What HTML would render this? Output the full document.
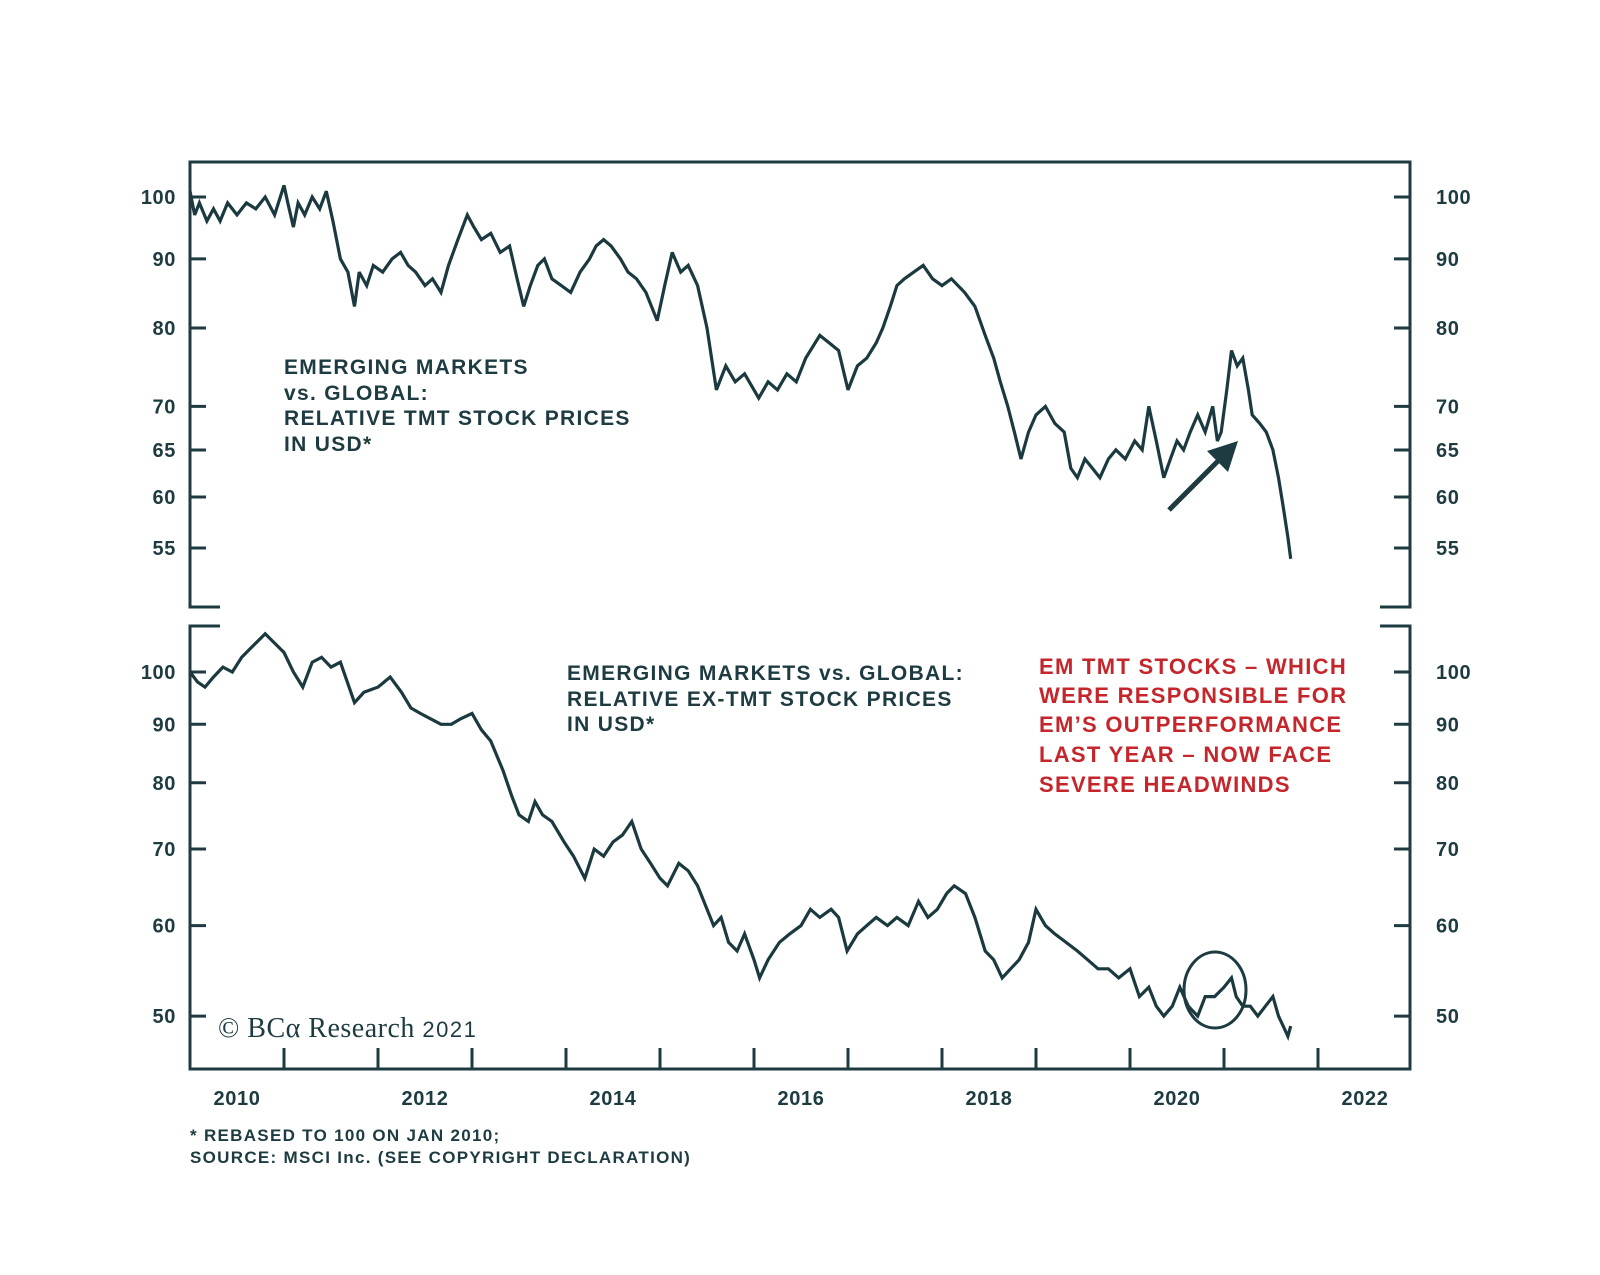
<!DOCTYPE html>
<html><head><meta charset="utf-8"><style>
body{margin:0;background:#fff;}
svg{display:block;font-family:"Liberation Sans",Arial,sans-serif;}
</style></head><body>
<svg id="chart" width="1600" height="1275" viewBox="0 0 1600 1275">
<g id="frame" stroke="#1d3b40" stroke-width="3" fill="none"></g>
<g id="axes"></g>
<g id="series"></g>
<g font-size="21" font-weight="bold" fill="#1d3b40" letter-spacing="1.3">
<text x="284" y="374">EMERGING MARKETS</text>
<text x="284" y="400">vs. GLOBAL:</text>
<text x="284" y="425">RELATIVE TMT STOCK PRICES</text>
<text x="284" y="451">IN USD*</text>
<text x="567" y="680">EMERGING MARKETS vs. GLOBAL:</text>
<text x="567" y="706">RELATIVE EX-TMT STOCK PRICES</text>
<text x="567" y="731">IN USD*</text>
</g>
<g font-size="22" font-weight="bold" fill="#c4262c" letter-spacing="1.3">
<text x="1039" y="674">EM TMT STOCKS – WHICH</text>
<text x="1039" y="703">WERE RESPONSIBLE FOR</text>
<text x="1039" y="732">EM’S OUTPERFORMANCE</text>
<text x="1039" y="762">LAST YEAR – NOW FACE</text>
<text x="1039" y="792">SEVERE HEADWINDS</text>
</g>
<text x="218" y="1037" font-size="28" font-family="Liberation Serif,serif" fill="#1d3b40" letter-spacing="0.5">© BCα Research <tspan font-size="22" font-family="Liberation Sans,sans-serif" letter-spacing="1.5">2021</tspan></text>
<g font-size="17" font-weight="bold" fill="#1d3b40" letter-spacing="1.3">
<text x="190" y="1141">* REBASED TO 100 ON JAN 2010;</text>
<text x="190" y="1163">SOURCE: MSCI Inc. (SEE COPYRIGHT DECLARATION)</text>
</g>
<line x1="1169" y1="510" x2="1222" y2="457" stroke="#1d3b40" stroke-width="5"/>
<polygon points="1238,441 1228,472 1207,451" fill="#1d3b40"/>
<ellipse cx="1215" cy="990" rx="31" ry="38" fill="none" stroke="#1d3b40" stroke-width="3"/>
</svg>
<script>
const topYears=[2010.0,2010.05,2010.1,2010.18,2010.25,2010.32,2010.4,2010.5,2010.6,2010.7,2010.8,2010.9,2011.0,2011.04,2011.1,2011.15,2011.22,2011.3,2011.38,2011.45,2011.52,2011.6,2011.68,2011.75,2011.8,2011.88,2011.95,2012.05,2012.15,2012.24,2012.32,2012.4,2012.5,2012.58,2012.67,2012.75,2012.85,2012.95,2013.02,2013.1,2013.2,2013.3,2013.4,2013.48,2013.55,2013.62,2013.7,2013.77,2013.85,2013.95,2014.05,2014.15,2014.25,2014.32,2014.4,2014.48,2014.58,2014.66,2014.75,2014.85,2014.97,2015.05,2015.13,2015.22,2015.3,2015.4,2015.5,2015.6,2015.7,2015.8,2015.9,2016.05,2016.15,2016.25,2016.35,2016.45,2016.55,2016.7,2016.8,2016.9,2017.0,2017.1,2017.2,2017.3,2017.37,2017.45,2017.52,2017.6,2017.7,2017.8,2017.9,2018.0,2018.1,2018.24,2018.35,2018.46,2018.55,2018.62,2018.7,2018.77,2018.84,2018.92,2019.0,2019.1,2019.2,2019.3,2019.37,2019.44,2019.52,2019.6,2019.68,2019.77,2019.85,2019.95,2020.05,2020.13,2020.2,2020.28,2020.36,2020.43,2020.5,2020.57,2020.64,2020.72,2020.8,2020.88,2020.93,2020.97,2021.03,2021.08,2021.14,2021.2,2021.26,2021.3,2021.38,2021.45,2021.52,2021.58,2021.63,2021.68,2021.71];
const topValues=[101,97,99,96,98,96,99,97,99,98,100,97,102,99,95,99,97,100,98,101,96,90,88,83,88,86,89,88,90,91,89,88,86,87,85,89,93,97,95,93,94,91,92,87,83,86,89,90,87,86,85,88,90,92,93,92,90,88,87,85,81,86,91,88,89,86,80,72,75,73,74,71,73,72,74,73,76,79,78,77,72,75,76,78,80,83,86,87,88,89,87,86,87,85,83,79,76,73,70,67,64,67,69,70,68,67,63,62,64,63,62,64,65,64,66,65,70,66,62,64,66,65,67,69,67,70,66,67,72,77,75,76,72,69,68,67,65,62,59,56,54,57];
const botYears=[2010.0,2010.08,2010.16,2010.25,2010.35,2010.45,2010.55,2010.65,2010.8,2010.9,2011.0,2011.1,2011.2,2011.3,2011.4,2011.5,2011.6,2011.75,2011.85,2012.0,2012.13,2012.25,2012.35,2012.45,2012.56,2012.67,2012.78,2012.88,2013.0,2013.1,2013.2,2013.33,2013.42,2013.5,2013.6,2013.67,2013.75,2013.85,2013.98,2014.08,2014.2,2014.3,2014.4,2014.5,2014.6,2014.7,2014.8,2014.9,2015.0,2015.08,2015.2,2015.3,2015.4,2015.57,2015.65,2015.73,2015.82,2015.9,2016.0,2016.06,2016.15,2016.27,2016.38,2016.5,2016.6,2016.7,2016.82,2016.9,2016.99,2017.1,2017.2,2017.3,2017.42,2017.52,2017.64,2017.75,2017.85,2017.95,2018.05,2018.13,2018.25,2018.35,2018.46,2018.55,2018.64,2018.73,2018.82,2018.92,2019.0,2019.1,2019.2,2019.32,2019.44,2019.55,2019.66,2019.77,2019.88,2020.0,2020.1,2020.2,2020.28,2020.36,2020.45,2020.53,2020.62,2020.72,2020.8,2020.9,2021.0,2021.08,2021.13,2021.2,2021.28,2021.36,2021.44,2021.52,2021.58,2021.63,2021.68,2021.71];
const botValues=[100,98,97,99,101,100,103,105,108,106,104,100,97,102,103,101,102,94,96,97,99,96,93,92,91,90,90,91,92,89,87,82,78,75,74,77,75,74,71,69,66,70,69,71,72,74,70,68,66,65,68,67,65,60,61,58,57,59,56,54,56,58,59,60,62,61,62,61,57,59,60,61,60,61,60,63,61,62,64,65,64,61,57,56,54,55,56,58,62,60,59,58,57,56,55,55,54,55,52,53,51,50,51,53,51,50,52,52,53,54,52,51,51,50,51,52,50,49,48,49];

const NS='http://www.w3.org/2000/svg';
const C='#1d3b40';
const X=t=>190+(t-2010)*94;
const YT=v=>197-1352*Math.log10(v/100);
const YB=v=>672-1143*Math.log10(v/100);
function mk(tag,attrs,parent){const e=document.createElementNS(NS,tag);for(const k in attrs)e.setAttribute(k,attrs[k]);parent.appendChild(e);return e;}
const frame=document.getElementById('frame');
const fr=mk('path',{d:'M220,607 H190 V162 H1410 V607 H1380 M220,626 H190 V1069 H1410 V626 H1380'},frame);


const axes=document.getElementById('axes');
const topTicks=[100,90,80,70,65,60,55];
const botTicks=[100,90,80,70,60,50];
function yTicks(ticks,f,nm){
 ticks.forEach(v=>{
  const y=f(v);
  const l=mk('path',{d:`M190,${y} h16 M1410,${y} h-16`,stroke:C,'stroke-width':3},axes);
  
  
  const a=mk('text',{x:176,y:y+7,'text-anchor':'end','font-size':20,'font-weight':'bold',fill:C,'letter-spacing':0.6},axes);a.textContent=v;
  
  
  const b=mk('text',{x:1436,y:y+7,'font-size':20,'font-weight':'bold',fill:C,'letter-spacing':0.6},axes);b.textContent=v;
  
  
 });
}
yTicks(topTicks,YT,'top-y');
yTicks(botTicks,YB,'bottom-y');
const yearLabels=[2010,2012,2014,2016,2018,2020,2022];
for(let yr=2011;yr<=2022;yr++){
 const t=mk('line',{x1:X(yr),x2:X(yr),y1:1069,y2:1048,stroke:C,'stroke-width':3},axes);
 
 
}
yearLabels.forEach(yr=>{
 const t=mk('text',{x:X(yr+0.5),y:1105,'text-anchor':'middle','font-size':20,'font-weight':'bold',fill:C,'letter-spacing':0.6},axes);t.textContent=yr;
 
 
});
const series=document.getElementById('series');
function line(xs,vs,f,nm){
 const d=xs.map((t,i)=>(i?'L':'M')+X(t).toFixed(1)+','+f(vs[i]).toFixed(1)).join(' ');
 const p=mk('path',{d:d,fill:'none',stroke:'#1b3a3f','stroke-width':3.2,'stroke-linejoin':'miter','stroke-miterlimit':3},series);
 
 
}
line(topYears,topValues,YT,'tmt-relative-line');
line(botYears,botValues,YB,'ex-tmt-relative-line');
</script>
</body></html>
